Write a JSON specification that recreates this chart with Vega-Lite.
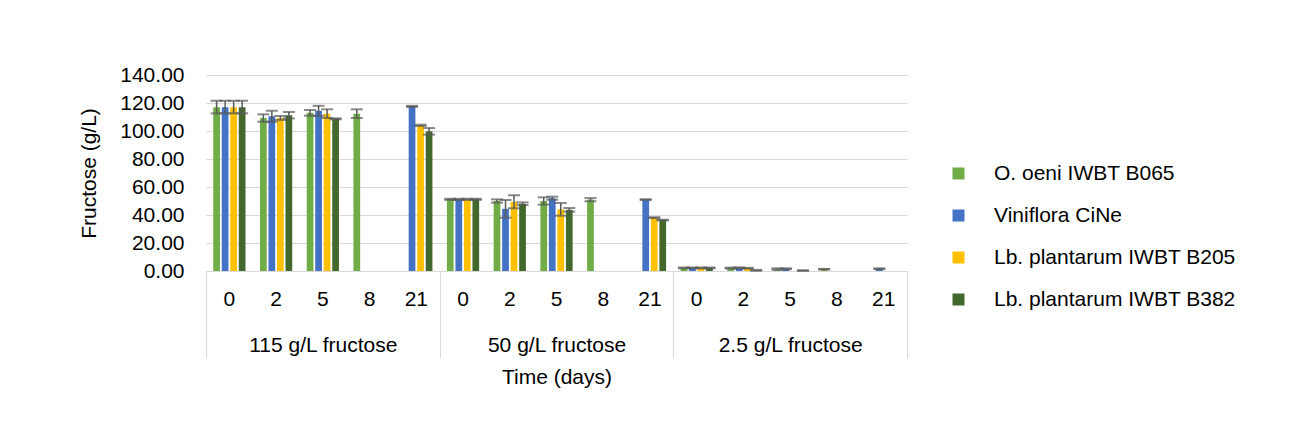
{
  "$schema": "https://vega.github.io/schema/vega-lite/v6.json",
  "width": 701,
  "height": 196,
  "padding": {"left": 78, "top": 64, "right": 5, "bottom": 5},
  "background": "white",
  "config": {
    "font": "Liberation Sans",
    "view": {"stroke": null},
    "axis": {"labelFontSize": 21, "titleFontSize": 21, "labelColor": "#000000", "titleColor": "#000000", "titleFontWeight": "normal", "labelFont": "Liberation Sans", "titleFont": "Liberation Sans", "labelOverlap": false},
    "axisY": {"tickCount": 8, "ticks": false, "domain": false, "gridColor": "#d9d9d9", "gridWidth": 1, "labelPadding": 22, "titlePadding": 20, "format": ".2f"},
    "legend": {"orient": "none", "legendX": 742, "legendY": 88, "symbolType": "square", "symbolSize": 144, "symbolStrokeWidth": 0, "labelFontSize": 21, "labelColor": "#000000", "labelFont": "Liberation Sans", "rowPadding": 20, "labelOffset": 25, "labelLimit": 400}
  },
  "data": {"values": [
    {"group": "115 g/L fructose", "key": "115|0", "strain": "O. oeni IWBT B065", "value": 117, "lo": 112.6, "hi": 121.6},
    {"group": "115 g/L fructose", "key": "115|0", "strain": "Viniflora CiNe", "value": 117, "lo": 112.6, "hi": 121.6},
    {"group": "115 g/L fructose", "key": "115|0", "strain": "Lb. plantarum IWBT B205", "value": 117, "lo": 112.6, "hi": 121.6},
    {"group": "115 g/L fructose", "key": "115|0", "strain": "Lb. plantarum IWBT B382", "value": 117, "lo": 112.6, "hi": 121.6},
    {"group": "115 g/L fructose", "key": "115|2", "strain": "O. oeni IWBT B065", "value": 109.3, "lo": 106.6, "hi": 111.9},
    {"group": "115 g/L fructose", "key": "115|2", "strain": "Viniflora CiNe", "value": 110.5, "lo": 106.6, "hi": 114.5},
    {"group": "115 g/L fructose", "key": "115|2", "strain": "Lb. plantarum IWBT B205", "value": 109.3, "lo": 107.9, "hi": 110.7},
    {"group": "115 g/L fructose", "key": "115|2", "strain": "Lb. plantarum IWBT B382", "value": 111.3, "lo": 109, "hi": 113.6},
    {"group": "115 g/L fructose", "key": "115|5", "strain": "O. oeni IWBT B065", "value": 113, "lo": 110.9, "hi": 115},
    {"group": "115 g/L fructose", "key": "115|5", "strain": "Viniflora CiNe", "value": 114.5, "lo": 110.9, "hi": 118},
    {"group": "115 g/L fructose", "key": "115|5", "strain": "Lb. plantarum IWBT B205", "value": 112.4, "lo": 109.3, "hi": 115.5},
    {"group": "115 g/L fructose", "key": "115|5", "strain": "Lb. plantarum IWBT B382", "value": 108.7, "lo": 108.3, "hi": 109},
    {"group": "115 g/L fructose", "key": "115|8", "strain": "O. oeni IWBT B065", "value": 112.4, "lo": 109.3, "hi": 115.5},
    {"group": "115 g/L fructose", "key": "115|21", "strain": "Viniflora CiNe", "value": 117.6, "lo": 117.2, "hi": 118},
    {"group": "115 g/L fructose", "key": "115|21", "strain": "Lb. plantarum IWBT B205", "value": 104, "lo": 103.6, "hi": 104.5},
    {"group": "115 g/L fructose", "key": "115|21", "strain": "Lb. plantarum IWBT B382", "value": 99.8, "lo": 97.4, "hi": 102.1},
    {"group": "50 g/L fructose", "key": "50|0", "strain": "O. oeni IWBT B065", "value": 51.2, "lo": 50.8, "hi": 51.6},
    {"group": "50 g/L fructose", "key": "50|0", "strain": "Viniflora CiNe", "value": 51.2, "lo": 50.8, "hi": 51.6},
    {"group": "50 g/L fructose", "key": "50|0", "strain": "Lb. plantarum IWBT B205", "value": 51.2, "lo": 50.8, "hi": 51.6},
    {"group": "50 g/L fructose", "key": "50|0", "strain": "Lb. plantarum IWBT B382", "value": 51.2, "lo": 50.8, "hi": 51.6},
    {"group": "50 g/L fructose", "key": "50|2", "strain": "O. oeni IWBT B065", "value": 50, "lo": 48.8, "hi": 51.2},
    {"group": "50 g/L fructose", "key": "50|2", "strain": "Viniflora CiNe", "value": 44.4, "lo": 38.1, "hi": 50.7},
    {"group": "50 g/L fructose", "key": "50|2", "strain": "Lb. plantarum IWBT B205", "value": 49.4, "lo": 44.8, "hi": 54.1},
    {"group": "50 g/L fructose", "key": "50|2", "strain": "Lb. plantarum IWBT B382", "value": 48, "lo": 47.1, "hi": 49},
    {"group": "50 g/L fructose", "key": "50|5", "strain": "O. oeni IWBT B065", "value": 50, "lo": 47.4, "hi": 52.6},
    {"group": "50 g/L fructose", "key": "50|5", "strain": "Viniflora CiNe", "value": 52, "lo": 50.9, "hi": 53.1},
    {"group": "50 g/L fructose", "key": "50|5", "strain": "Lb. plantarum IWBT B205", "value": 44, "lo": 39.5, "hi": 48.6},
    {"group": "50 g/L fructose", "key": "50|5", "strain": "Lb. plantarum IWBT B382", "value": 43.7, "lo": 42.4, "hi": 45},
    {"group": "50 g/L fructose", "key": "50|8", "strain": "O. oeni IWBT B065", "value": 51, "lo": 49.8, "hi": 52.1},
    {"group": "50 g/L fructose", "key": "50|21", "strain": "Viniflora CiNe", "value": 51, "lo": 50.7, "hi": 51.3},
    {"group": "50 g/L fructose", "key": "50|21", "strain": "Lb. plantarum IWBT B205", "value": 38.1, "lo": 37.8, "hi": 38.4},
    {"group": "50 g/L fructose", "key": "50|21", "strain": "Lb. plantarum IWBT B382", "value": 36.4, "lo": 36.2, "hi": 36.6},
    {"group": "2.5 g/L fructose", "key": "2.5|0", "strain": "O. oeni IWBT B065", "value": 2.2, "lo": 1.9, "hi": 2.5},
    {"group": "2.5 g/L fructose", "key": "2.5|0", "strain": "Viniflora CiNe", "value": 2.2, "lo": 1.9, "hi": 2.5},
    {"group": "2.5 g/L fructose", "key": "2.5|0", "strain": "Lb. plantarum IWBT B205", "value": 2.2, "lo": 1.9, "hi": 2.5},
    {"group": "2.5 g/L fructose", "key": "2.5|0", "strain": "Lb. plantarum IWBT B382", "value": 2.2, "lo": 1.9, "hi": 2.5},
    {"group": "2.5 g/L fructose", "key": "2.5|2", "strain": "O. oeni IWBT B065", "value": 2.0, "lo": 1.8, "hi": 2.4},
    {"group": "2.5 g/L fructose", "key": "2.5|2", "strain": "Viniflora CiNe", "value": 2.2, "lo": 1.8, "hi": 2.6},
    {"group": "2.5 g/L fructose", "key": "2.5|2", "strain": "Lb. plantarum IWBT B205", "value": 2.0, "lo": 1.8, "hi": 2.2},
    {"group": "2.5 g/L fructose", "key": "2.5|2", "strain": "Lb. plantarum IWBT B382", "value": 0.5, "lo": 0.2, "hi": 0.8},
    {"group": "2.5 g/L fructose", "key": "2.5|5", "strain": "O. oeni IWBT B065", "value": 1.2, "lo": 0.9, "hi": 1.9},
    {"group": "2.5 g/L fructose", "key": "2.5|5", "strain": "Viniflora CiNe", "value": 1.6, "lo": 1.3, "hi": 1.9},
    {"group": "2.5 g/L fructose", "key": "2.5|5", "strain": "Lb. plantarum IWBT B382", "value": 0.3, "lo": 0.1, "hi": 0.5},
    {"group": "2.5 g/L fructose", "key": "2.5|8", "strain": "O. oeni IWBT B065", "value": 1.3, "lo": 1.1, "hi": 1.5},
    {"group": "2.5 g/L fructose", "key": "2.5|21", "strain": "Viniflora CiNe", "value": 1.6, "lo": 1.3, "hi": 1.9}
  ]},
  "layer": [
    {
      "encoding": {
        "x": {"field": "key", "type": "nominal",
          "scale": {"domain": ["115|0","115|2","115|5","115|8","115|21","50|0","50|2","50|5","50|8","50|21","2.5|0","2.5|2","2.5|5","2.5|8","2.5|21"], "paddingInner": 0, "paddingOuter": 0},
          "axis": {"title": null, "labelExpr": "split(datum.value, '|')[1]", "ticks": false, "domain": false, "labelPadding": 17, "labelAngle": 0}},
        "xOffset": {"field": "strain", "type": "nominal",
          "scale": {"domain": ["O. oeni IWBT B065", "Viniflora CiNe", "Lb. plantarum IWBT B205", "Lb. plantarum IWBT B382"], "paddingInner": 0.21, "paddingOuter": 0.85}}
      },
      "layer": [
        {
          "mark": {"type": "bar"},
          "encoding": {
            "y": {"field": "value", "type": "quantitative", "title": "Fructose (g/L)",
              "scale": {"domain": [0, 140], "nice": false},
              "axis": {"values": [0, 20, 40, 60, 80, 100, 120, 140], "tickCount": 8}},
            "color": {"field": "strain", "type": "nominal", "title": null,
              "scale": {"domain": ["O. oeni IWBT B065", "Viniflora CiNe", "Lb. plantarum IWBT B205", "Lb. plantarum IWBT B382"], "range": ["#70AD47", "#4472C4", "#FFC000", "#43682B"]}}
          }
        },
        {
          "mark": {"type": "rule", "color": "#595959", "strokeWidth": 1.5},
          "encoding": {
            "y": {"field": "lo", "type": "quantitative", "title": "Fructose (g/L)", "axis": {"values": [0, 20, 40, 60, 80, 100, 120, 140], "tickCount": 8}},
            "y2": {"field": "hi"}
          }
        },
        {
          "mark": {"type": "tick", "color": "#595959", "thickness": 2, "size": 12},
          "encoding": {"y": {"field": "lo", "type": "quantitative", "title": "Fructose (g/L)", "axis": {"values": [0, 20, 40, 60, 80, 100, 120, 140], "tickCount": 8}}}
        },
        {
          "mark": {"type": "tick", "color": "#595959", "thickness": 2, "size": 12},
          "encoding": {"y": {"field": "hi", "type": "quantitative", "title": "Fructose (g/L)", "axis": {"values": [0, 20, 40, 60, 80, 100, 120, 140], "tickCount": 8}}}
        }
      ]
    },
    {
      "mark": {"type": "point", "opacity": 0},
      "encoding": {
        "x": {"field": "group", "type": "nominal",
          "scale": {"domain": ["115 g/L fructose", "50 g/L fructose", "2.5 g/L fructose"], "paddingInner": 0, "paddingOuter": 0},
          "axis": {"orient": "bottom", "title": "Time (days)", "tickBand": "extent", "tickSize": 87, "tickColor": "#d9d9d9", "tickWidth": 1, "domainColor": "#d9d9d9", "domainWidth": 1, "labelPadding": -24, "labelAngle": 0, "titlePadding": 8}},
        "y": {"field": "value", "type": "quantitative", "title": "Fructose (g/L)", "axis": {"values": [0, 20, 40, 60, 80, 100, 120, 140], "tickCount": 8}}
      }
    }
  ],
  "resolve": {"scale": {"x": "independent"}, "axis": {"x": "independent"}}
}
